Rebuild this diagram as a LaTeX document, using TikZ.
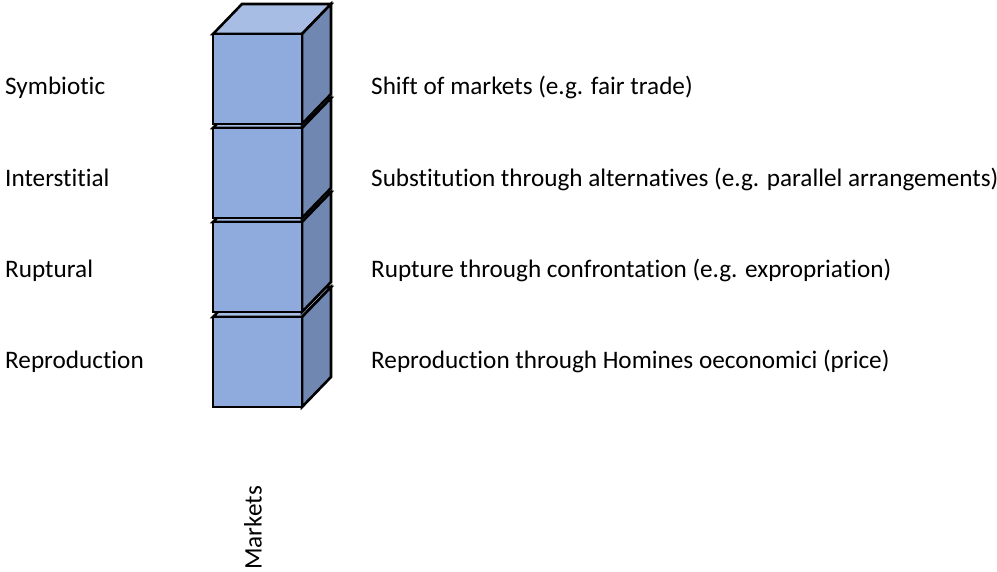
\documentclass[tikz,border=0pt]{standalone}
\usepackage{fontspec}
\setmainfont[Ligatures=NoCommon]{Carlito}
\definecolor{cubefront}{RGB}{143,170,220}
\definecolor{cubetop}{RGB}{167,189,227}
\definecolor{cubeside}{RGB}{112,136,177}
\tikzset{
  facebox/.style={draw=black, line width=2.6pt, line join=miter, miter limit=3},
  lbl/.style={anchor=base west, inner sep=0pt, font=\fontsize{25.2}{29}\selectfont},
}
% one cube: front face top edge at y=#1
\newcommand\stackcube[1]{
  \fill[cubetop,facebox] (213,#1) -- (242,#1-30) -- (331,#1-30) -- (302,#1) -- cycle;
  \fill[cubeside,facebox] (302,#1) -- (331,#1-30) -- (331,#1+60) -- (302,#1+90) -- cycle;
  \fill[cubefront,facebox] (213,#1) rectangle (302,#1+90);
}
\begin{document}
\begin{tikzpicture}[x=1pt,y=-1pt]
  \useasboundingbox (0,0) rectangle (997,572);
  % stack of cubes, drawn from the bottom up
  \stackcube{317}
  \stackcube{222}
  \stackcube{128}
  \stackcube{34}
  % strategies on the left
  \node[lbl] (sym) at (5,94.3) {Symbiotic};
  \node[lbl] (int) at (5,186.7) {Interstitial};
  \node[lbl] (rup) at (5,277.3) {Ruptural};
  \node[lbl] (rep) at (5,368) {Reproduction};
  % descriptions on the right
  \node[lbl] (dsym) at (371,94.3) {Shift of markets (e.g. fair trade)};
  \node[lbl] (dint) at (371,186.7) {Substitution through alternatives (e.g. parallel arrangements)};
  \node[lbl] (drup) at (371,277.3) {Rupture through confrontation (e.g. expropriation)};
  \node[lbl] (drep) at (371,368) {Reproduction through Homines oeconomici (price)};
  % column caption
  \node[lbl, anchor=center, rotate=90] (mk) at (253,528) {Markets};
\end{tikzpicture}
\end{document}
